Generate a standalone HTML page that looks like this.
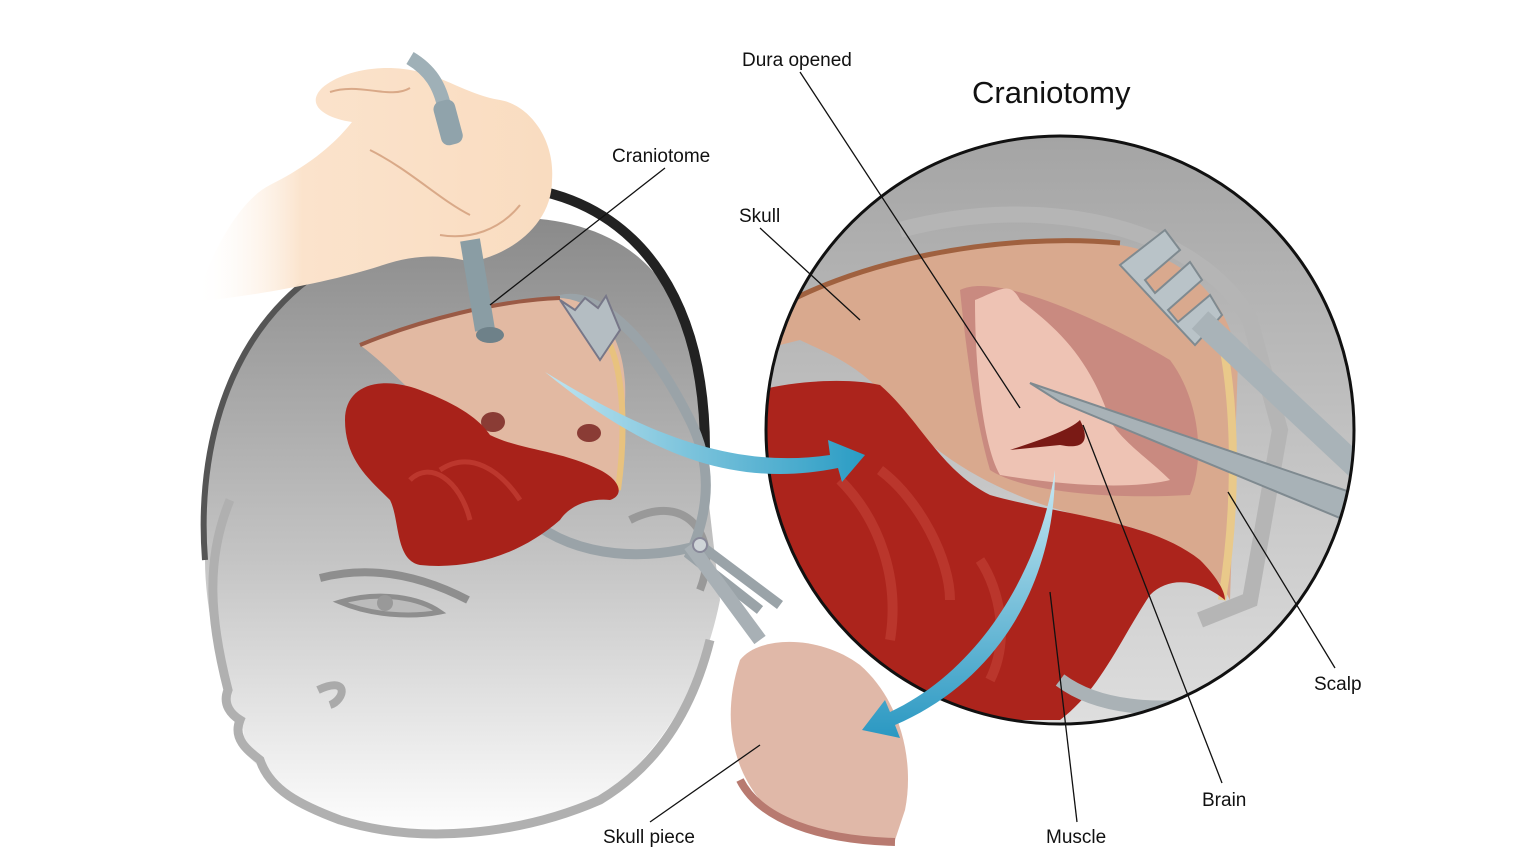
<!DOCTYPE html>
<html><head><meta charset="utf-8"><style>
html,body{margin:0;padding:0;background:#fff;}
svg{display:block}
text{font-family:"Liberation Sans",sans-serif;fill:#111}
</style></head><body>
<svg width="1536" height="864" viewBox="0 0 1536 864" xmlns="http://www.w3.org/2000/svg">
<defs>
<linearGradient id="hg" x1="0" y1="0" x2="0" y2="1">
<stop offset="0" stop-color="#8a8a8a"/><stop offset="0.55" stop-color="#c4c4c4"/><stop offset="1" stop-color="#ffffff"/>
</linearGradient>
<linearGradient id="cg" x1="0" y1="0" x2="0" y2="1">
<stop offset="0" stop-color="#a4a4a4"/><stop offset="1" stop-color="#dedede"/>
</linearGradient>
<linearGradient id="hand" x1="0" y1="0" x2="1" y2="0">
<stop offset="0" stop-color="#fff" stop-opacity="0"/><stop offset="0.3" stop-color="#fbe3cc"/><stop offset="1" stop-color="#f9dcc0"/>
</linearGradient>
<linearGradient id="blue" x1="0" y1="0" x2="1" y2="0">
<stop offset="0" stop-color="#bfe4f0"/><stop offset="1" stop-color="#2a9cc4"/>
</linearGradient>
<linearGradient id="blue2" x1="0" y1="0" x2="0" y2="1">
<stop offset="0" stop-color="#c9e9f3"/><stop offset="1" stop-color="#2a98c2"/>
</linearGradient>
<clipPath id="cc"><circle cx="1060" cy="430" r="294"/></clipPath>
</defs>

<!-- HEAD -->
<path d="M205,560 C195,430 240,300 360,250 C470,205 600,200 660,280 C700,330 706,400 705,470 L720,600 C700,700 650,760 600,800 C520,840 420,845 360,830 C320,815 290,800 280,790 C265,770 250,760 245,752 C240,735 250,725 232,712 C220,705 228,690 225,680 C215,650 205,600 205,560 Z" fill="url(#hg)"/>
<path d="M205,560 C195,430 240,300 360,250" fill="none" stroke="#555" stroke-width="6"/>
<path d="M545,192 C640,215 705,300 705,450" fill="none" stroke="#222" stroke-width="10"/>
<path d="M230,500 C205,560 210,620 228,690 C222,705 232,715 240,720 C232,740 250,752 260,760 C270,790 300,805 340,820 C420,845 520,835 600,800 C650,770 690,720 710,640" fill="none" stroke="#b0b0b0" stroke-width="9"/>
<path d="M318,690 C350,675 345,700 330,705" fill="none" stroke="#aaa" stroke-width="8"/>
<path d="M320,578 C370,565 420,575 468,600" fill="none" stroke="#8e8e8e" stroke-width="8"/>
<path d="M340,602 C380,590 420,598 440,612 C410,618 370,615 340,602 Z" fill="#bbb" stroke="#8e8e8e" stroke-width="5"/>
<circle cx="385" cy="603" r="8" fill="#999"/>
<path d="M630,520 C690,490 720,540 700,590" fill="none" stroke="#999" stroke-width="8"/>

<!-- left retractor -->
<path d="M560,300 C600,290 650,340 690,420 C720,480 700,530 690,555 L760,610" fill="none" stroke="#9aa3a8" stroke-width="10"/>
<path d="M530,520 C580,560 650,560 700,545 L780,605" fill="none" stroke="#9aa3a8" stroke-width="10"/>
<path d="M690,545 L760,640" stroke="#a8b0b5" stroke-width="14"/>
<circle cx="700" cy="545" r="7" fill="#cfd5d8" stroke="#889" stroke-width="2"/>

<!-- skull flap left -->
<path d="M360,345 C420,320 500,300 560,298 C600,300 628,340 625,400 L620,490 C600,480 560,460 530,450 C480,440 440,420 420,400 C400,380 380,360 360,345 Z" fill="#e2b9a2"/>
<path d="M360,345 C420,320 500,300 560,298" fill="none" stroke="#9a5a45" stroke-width="4"/>
<path d="M610,345 C625,380 625,440 618,490" fill="none" stroke="#e8c27e" stroke-width="6"/>
<ellipse cx="493" cy="422" rx="12" ry="10" fill="#8a3c35"/>
<ellipse cx="589" cy="433" rx="12" ry="9" fill="#8a3c35"/>
<!-- red muscle left -->
<path d="M345,420 C345,385 380,375 420,390 C460,405 480,420 490,435 C520,450 560,450 600,470 C620,480 625,495 610,500 C590,498 570,505 560,520 C520,555 470,570 420,565 C395,560 400,520 390,500 C370,480 345,460 345,420 Z" fill="#a8221a"/>
<path d="M440,470 C470,450 500,470 520,500 M410,480 C430,460 460,480 470,520" fill="none" stroke="#c9463b" stroke-width="5" opacity=".6"/>
<path d="M560,300 L575,310 L585,298 L598,308 L606,296 L620,330 L600,360 Z" fill="#b4bdc2" stroke="#778" stroke-width="2"/>

<!-- hand -->
<path d="M195,302 C260,295 330,282 380,266 C420,252 450,256 470,262 C510,255 552,225 552,180 C555,140 530,105 500,100 C470,95 450,80 420,72 C380,62 340,72 322,88 C305,105 325,118 352,122 C330,150 300,170 270,185 C240,200 212,250 195,302 Z" fill="url(#hand)"/>
<path d="M370,150 C410,170 440,200 470,215 M440,235 C470,240 500,230 520,205 M330,92 C360,82 390,100 410,88" fill="none" stroke="#d9a988" stroke-width="2"/>
<!-- craniotome -->
<path d="M410,58 C430,70 440,85 445,110" fill="none" stroke="#9fb0b7" stroke-width="14"/>
<rect x="437" y="100" width="22" height="45" rx="8" fill="#90a3ab" transform="rotate(-15 448 122)"/>
<path d="M470,240 L485,330" stroke="#8a9da4" stroke-width="20"/>
<ellipse cx="490" cy="335" rx="14" ry="8" fill="#6e8189"/>

<!-- BIG CIRCLE -->
<circle cx="1060" cy="430" r="294" fill="url(#cg)"/>
<g clip-path="url(#cc)">
<path d="M900,230 C1050,190 1200,230 1250,320 L1280,430 L1250,600 L1200,620" fill="none" stroke="#b5b5b5" stroke-width="16"/>
<path d="M760,320 C850,260 1000,235 1120,245 C1180,255 1215,290 1230,330 L1238,360 L1230,600 C1210,560 1160,530 1100,520 C1000,500 920,450 880,390 C850,360 820,350 800,340 L760,350 Z" fill="#d9a98e"/>
<path d="M760,318 C850,260 1000,232 1120,243" fill="none" stroke="#a0613f" stroke-width="5"/>
<path d="M1222,340 C1238,420 1235,520 1222,600" fill="none" stroke="#e9c98a" stroke-width="8"/>
<path d="M960,290 C1000,270 1120,330 1170,360 C1200,400 1205,460 1190,495 C1100,500 1020,490 990,470 C975,420 965,340 960,290 Z" fill="#c98a80"/>
<path d="M975,300 C1000,290 1010,280 1020,300 C1060,330 1090,360 1110,420 C1120,440 1150,460 1170,480 C1130,490 1060,485 1000,475 C985,450 975,380 975,300 Z" fill="#eec3b4"/>
<path d="M1010,450 C1040,440 1070,430 1080,420 C1090,440 1085,450 1060,445 Z" fill="#7a1a15"/>
<path d="M760,390 C800,380 850,378 880,385 C920,420 940,470 990,495 C1060,515 1150,520 1200,560 C1215,575 1225,590 1225,600 C1200,580 1170,575 1150,595 C1120,640 1100,690 1060,720 L760,720 Z" fill="#ac241c"/>
<path d="M880,470 C920,500 950,560 950,600 M840,480 C880,520 900,580 890,640 M980,560 C1000,590 1010,640 990,680" fill="none" stroke="#c8473c" stroke-width="10" opacity=".5"/>
<path d="M1060,680 C1100,710 1160,710 1200,705" fill="none" stroke="#aab2b6" stroke-width="14"/>
<path d="M1120,265 L1165,230 L1180,250 L1145,280 L1155,293 L1190,262 L1202,280 L1168,310 L1178,322 L1210,295 L1222,315 L1195,345 Z" fill="#b9c3c8" stroke="#7f8a90" stroke-width="2"/>
<path d="M1200,320 L1360,470" stroke="#a9b3b8" stroke-width="24"/>
<path d="M1030,383 L1350,492 L1340,518 L1060,402 Z" fill="#a8b2b7" stroke="#7f8a90" stroke-width="2"/>
</g>
<circle cx="1060" cy="430" r="294" fill="none" stroke="#111" stroke-width="3"/>

<!-- skull piece -->
<path d="M740,660 C760,635 820,635 860,665 C900,700 915,760 905,810 L895,840 C860,845 790,830 760,800 C735,770 720,720 740,660 Z" fill="#e0b8a8"/>
<path d="M740,780 C760,820 820,840 895,842" fill="none" stroke="#b87a70" stroke-width="8"/>

<!-- blue arrows -->
<path d="M545,372 C640,430 730,470 830,455 L828,440 L865,455 L842,482 L838,468 C730,490 640,450 545,372 Z" fill="url(#blue)"/>
<path d="M1055,470 C1040,570 980,670 890,712 L885,700 L862,730 L900,738 L895,725 C1000,680 1055,580 1055,470 Z" fill="url(#blue2)"/>

<g stroke="#111" stroke-width="1.3">
<line x1="800" y1="72" x2="1020" y2="408"/>
<line x1="665" y1="168" x2="490" y2="305"/>
<line x1="760" y1="228" x2="860" y2="320"/>
<line x1="1335" y1="668" x2="1228" y2="492"/>
<line x1="1222" y1="783" x2="1083" y2="425"/>
<line x1="1077" y1="822" x2="1050" y2="592"/>
<line x1="650" y1="822" x2="760" y2="745"/>
</g>

<text x="972" y="103" font-size="31">Craniotomy</text>
<text x="742" y="66" font-size="19">Dura opened</text>
<text x="612" y="162" font-size="19">Craniotome</text>
<text x="739" y="222" font-size="19">Skull</text>
<text x="1314" y="690" font-size="19">Scalp</text>
<text x="1202" y="806" font-size="19">Brain</text>
<text x="1046" y="843" font-size="19">Muscle</text>
<text x="603" y="843" font-size="19">Skull piece</text>
</svg>
</body></html>
